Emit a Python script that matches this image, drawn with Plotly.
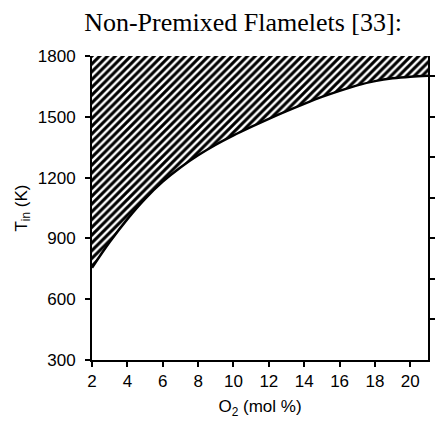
import plotly.graph_objects as go

o2 = [2, 3, 4, 5, 6, 7, 8, 9, 10, 11, 12, 13, 14, 15, 16, 17, 18, 19, 20, 21]
t_in = [755, 882, 995, 1095, 1180, 1250, 1310, 1362, 1408, 1450, 1490, 1528,
        1564, 1598, 1628, 1655, 1676, 1690, 1698, 1702]
t_top = 1800
x_ticks = [2, 4, 6, 8, 10, 12, 14, 16, 18, 20]
y_ticks = [300, 600, 900, 1200, 1500, 1800]
y2_ticks = [500, 700, 900, 1100, 1300, 1500, 1700]

fig = go.Figure()
fig.add_trace(go.Scatter(x=o2, y=[t_top] * len(o2), mode="lines",
                         line=dict(width=0, color="rgba(0,0,0,0)"),
                         showlegend=False, hoverinfo="skip"))
fig.add_trace(go.Scatter(x=o2, y=t_in, mode="lines", line_shape="spline",
                         line=dict(color="black", width=2.5),
                         fill="tonexty", fillcolor="white",
                         fillpattern=dict(shape="/", fgcolor="black", bgcolor="white",
                                          fgopacity=1, size=5.5, solidity=0.55),
                         showlegend=False))
# invisible trace on secondary y-axis
fig.add_trace(go.Scatter(x=[o2[0]], y=[t_top], yaxis="y2", mode="markers",
                         marker=dict(opacity=0), showlegend=False, hoverinfo="skip"))

tick_font = dict(family="Liberation Sans, Arial", size=17, color="black")
title_font = dict(family="Liberation Sans, Arial", size=17, color="black")
fig.update_layout(
    width=435, height=422,
    margin=dict(l=92, r=2, t=56, b=62),
    paper_bgcolor="white", plot_bgcolor="white",
    title=dict(text="Non-Premixed Flamelets [33]:", x=243 / 435, xanchor="center",
               y=1 - 22 / 422, yanchor="middle",
               font=dict(family="Liberation Serif, Times New Roman", size=26, color="black")),
    xaxis=dict(range=[2, 21], tickvals=x_ticks, ticks="outside", ticklen=5,
               tickwidth=2, tickcolor="black", showline=True, linecolor="black",
               linewidth=2, showgrid=False, zeroline=False, tickfont=tick_font,
               title=dict(text="O<sub>2</sub> (mol %)", font=title_font, standoff=10)),
    yaxis=dict(range=[300, 1800], tickvals=y_ticks, ticks="outside", ticklen=5,
               tickwidth=2, tickcolor="black", showline=True, linecolor="black",
               linewidth=2, showgrid=False, zeroline=False, tickfont=tick_font,
               ticklabelstandoff=6,
               title=dict(text="T<sub>in</sub> (K)", font=title_font, standoff=6)),
    yaxis2=dict(range=[300, 1800], overlaying="y", side="right", tickvals=y2_ticks,
                showticklabels=False, ticks="outside", ticklen=5, tickwidth=2,
                tickcolor="black", showline=True, linecolor="black", linewidth=2,
                showgrid=False, zeroline=False, layer="below traces"),
)
fig.write_html("out.html")
